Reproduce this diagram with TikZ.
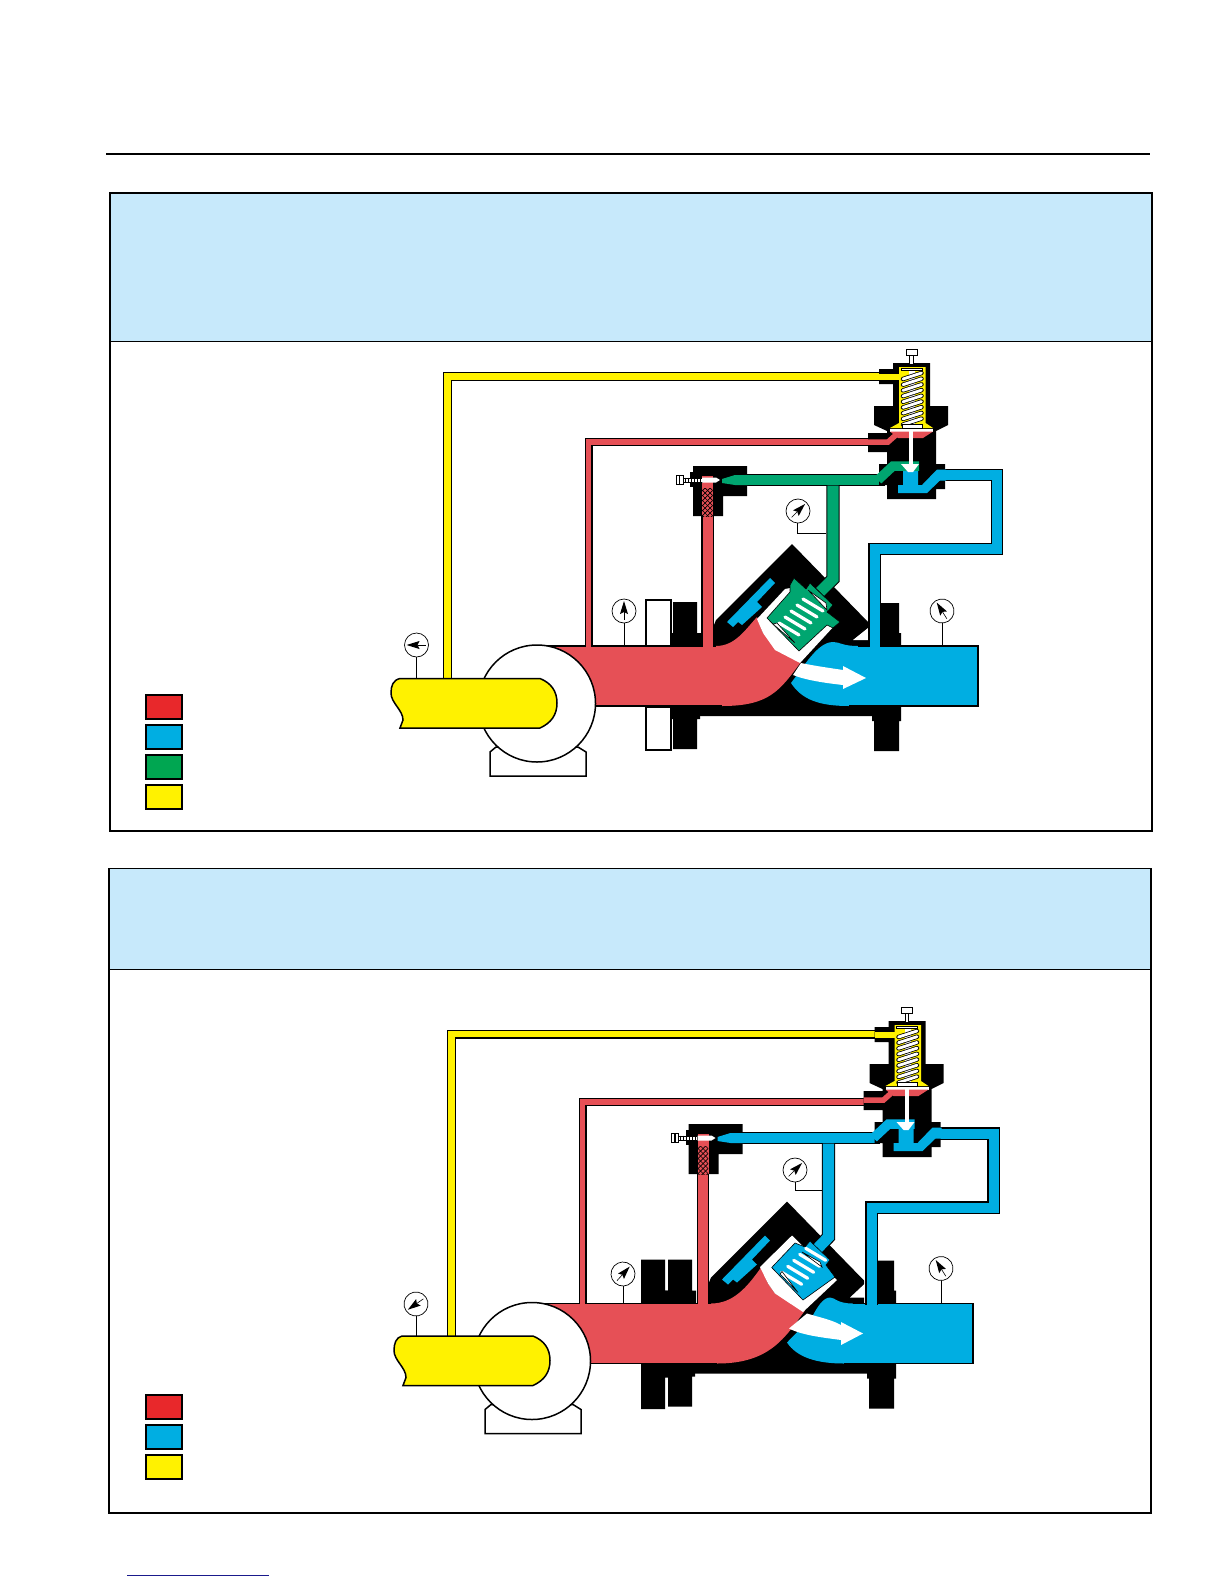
\documentclass[tikz,border=0pt]{standalone}
\usepackage{tikz}
\usetikzlibrary{calc}
\definecolor{headblue}{RGB}{199,233,251}
\definecolor{keyred}{RGB}{232,40,43}
\definecolor{linered}{RGB}{230,80,86}
\definecolor{lineblue}{RGB}{0,174,226}
\definecolor{linegreen}{RGB}{0,166,112}
\definecolor{keygreen}{RGB}{0,166,81}
\definecolor{lineyellow}{RGB}{255,242,0}
\definecolor{linknavy}{RGB}{26,26,140}

% gauge: x, y, turn of the needle
\newcommand{\gaugemark}[3]{
  \begin{scope}[shift={(#1,#2)},rotate=#3]
    \draw[line width=.35pt,fill=white] (0,0) circle [radius=12];
    \fill (0,-10) -- (4,3) -- (0,1) -- (-4,3) -- cycle;
    \draw[line width=.3pt] (0,1) -- (0,9);
  \end{scope}
}
% black body of the main valve and its flanges
\newcommand{\valvebody}{
  \fill (792,544) -- (869,623) -- (869,650) -- (873,707) -- (873,716) -- (700,716) -- (700,707)
    -- (712,646) -- (712,630) -- (716,620) -- cycle;
  \fill (673,602) rectangle (697,633) (669,633) rectangle (701,647);
  \fill (669,706) rectangle (700,719) (673,719) rectangle (697,749);
  \fill (880,603) rectangle (899,633) (880,633) rectangle (901,647);
  \fill (872,706) rectangle (901,721) (874,721) rectangle (899,751);
  \fill[lineblue] (770,578) -- (775,583) -- (757,602) -- (762,607) -- (742,625) -- (738,622)
    -- (733,627) -- (727,622) -- cycle;
}
\newcommand{\pistonbars}[2]{
  \foreach \k in {0,...,4}
    \draw[white,line width=1.6pt,line cap=round] ($(#1,#2)+(6*\k,-6*\k)$) -- ++(20,12);
}
% pump, foot and casing
\newcommand{\pumpset}{
  \draw[heavy,fill=white] (490,776) -- (586,776) -- (586,752) -- (578,747) -- (496,747) -- (490,752) -- cycle;
  \draw[heavy,fill=white] (537,703.5) circle [radius=58.5];
}
% pilot and needle, upper frame; #1 = colour of the control line
\newcommand{\pilotvalve}[1]{
  \fill (893,363) -- (930,363) -- (930,406) -- (948,406) -- (948,425) -- (936,431) -- (936,464)
    -- (945,464) -- (945,489) -- (936,489) -- (936,499) -- (887,499) -- (887,485) -- (879,485)
    -- (879,464) -- (887,464) -- (887,452) -- (868,452) -- (868,433) -- (887,433) -- (887,431)
    -- (874,425) -- (874,406) -- (893,406) -- (893,384) -- (879,384) -- (879,369) -- (893,369) -- cycle;
  % screw on top
  \draw[thin,fill=white] (906,349) rectangle (917,355);
  \draw[thin,fill=white] (909.5,355) rectangle (913,364);
  % spring chamber
  \fill[lineyellow] (879,373.5) rectangle (899,379.5);
  \fill[lineyellow] (899,367) -- (925.5,367) -- (925.5,423) -- (933,428) -- (890,428) -- (899,423) -- cycle;
  \fill[white] (909,371) rectangle (915,424);
  \draw[line width=.4pt,fill=white] (901,368) rectangle (922,370.5);
  \foreach \y in {376,381.7,...,422} {
    \draw[line width=2.2pt,line cap=round] (903,\y+3) -- (921.5,\y-3);
    \draw[white,line width=1.4pt,line cap=round] (903,\y+3) -- (921.5,\y-3);
  }
  \draw[line width=.4pt,fill=white] (902,424.5) rectangle (922,428);
  \fill[white] (890,428.5) rectangle (933,431.5);
  \fill[linered] (890,431.5) -- (933,431.5) -- (923,438) -- (898,438) -- cycle;
  \draw[linered,line width=2.75pt] (868,442) -- (888,442) -- (897,434);
  \draw[#1,line width=4.75pt] (878,480) -- (893,466) -- (919,466);
  \fill[lineblue] (903,471) -- (918,471) -- (918,485) -- (922,485) -- (937,469.5) -- (946,469.5) -- (946,480.5)
    -- (940,480.5) -- (927,493) -- (898,493) -- (898,485) -- (903,485) -- cycle;
  \fill[white] (909,431) rectangle (913,464);
  \fill[white] (901,464) -- (919,464) -- (913,472) -- (908,472) -- cycle;
  % needle block
  \fill (693,466) -- (747,466) -- (747,496) -- (723,496) -- (723,516) -- (693,516) -- cycle;
  \fill (690,472) rectangle (693,487);
  \fill[linered] (702,476) rectangle (713,516);
  \begin{scope}
    \clip (702,488) rectangle (712.5,516);
    \foreach \k in {470,475,...,515} {
      \draw[line width=.35pt] (702,\k) -- (713,\k+11);
      \draw[line width=.35pt] (713,\k) -- (702,\k+11);
    }
  \end{scope}
  \fill[#1] (722,479) -- (735,475) -- (748,475) -- (748,485) -- (735,485) -- (722,483) -- cycle;
  \draw[line width=.3pt,fill=white] (683,478) rectangle (702,482);
  \foreach \k in {685,688,...,700}
    \draw[line width=.5pt] (\k,477.5) -- (\k,482.5);
  \draw[line width=.5pt,fill=white] (676,475.5) rectangle (683,484);
  \draw[line width=.6pt] (679.5,475.5) -- (679.5,484);
  \fill[white] (702,477.5) -- (716,477.5) -- (720,480) -- (716,482.5) -- (702,482.5) -- cycle;
}

\begin{document}
\begin{tikzpicture}[
  x=.5pt, y=-.5pt,
  heavy/.style={draw=black, line width=.75pt},
  panelbox/.style={draw=black, line width=.8pt},
  pipe/.style={draw=black, line width=.55pt, double=#1, double distance=5pt},
  keybox/.style={draw=black, line width=.75pt, minimum width=18pt, minimum height=12pt, inner sep=0pt},
  leader/.style={line width=.35pt}
]
\useasboundingbox (0,0) rectangle (1224,1584);

\draw[line width=1pt] (106,153.5) -- (1150,153.5);

%-------- upper panel
\fill[headblue] (110,193) rectangle (1152,341.5);
\draw[panelbox] (110,193) rectangle (1152,831);
\draw[panelbox] (110,341.5) -- (1152,341.5);

\node[keybox,fill=keyred]     (keyA) at (164,707) {};
\node[keybox,fill=lineblue]   (keyB) at (164,737) {};
\node[keybox,fill=keygreen]   (keyC) at (164,767) {};
\node[keybox,fill=lineyellow] (keyD) at (164,797) {};

\valvebody
\draw[heavy,fill=white] (646,600) rectangle (671,646);
\draw[heavy,fill=white] (646,707) rectangle (671,750);
% red side
\fill[linered] (540,646) -- (716,646) .. controls (735,646) and (745,630) .. (757,617) -- (763,633) -- (801,662)
  .. controls (780,690) and (770,706) .. (722,706) -- (590,706) -- cycle;
\draw[heavy] (540,646) -- (716,646) (590,706) -- (722,706);
% blue side
\fill[lineblue] (808,660) .. controls (816,650) and (824,642) .. (833,642) .. controls (840,642) and (842,646) .. (858,646)
  -- (978,646) -- (978,706) -- (849,706) .. controls (820,706) and (802,700) .. (791,683) -- cycle;
\draw[heavy] (858,646) -- (978,646) -- (978,706) -- (849,706);
% cavity and control chamber
\fill[white] (757,619) -- (785,589) -- (800,586) -- (835,625) -- (800,663) -- (775,650) -- (763,633) -- cycle;
\fill[white] (868,628) -- (868,640) -- (853,640) -- cycle;

\draw[pipe=lineyellow,double distance=3.4pt] (447.5,679) -- (447.5,376.5) -- (885,376.5);
\draw[pipe=linered,double distance=2.9pt] (588.5,647) -- (588.5,442) -- (875,442);
\draw[pipe=linered] (707.5,647) -- (707.5,480);
\draw[pipe=linegreen] (736,480) -- (885,480);
\draw[pipe=linegreen,double distance=5.6pt] (833,485.5) -- (833,579) -- (820,592);
\draw[pipe=lineblue] (874.5,647) -- (874.5,549) -- (997,549) -- (997,475) -- (940,475);

\draw[line width=.3pt,fill=linegreen] (767,618) -- (790,592) -- (790,585) -- (794,578) -- (806,589) -- (810,583) -- (833,605)
  -- (827,612) -- (840,622) -- (833,628) -- (827,625) -- (799,651) -- cycle;
\pistonbars{779}{623}
\draw[line width=.3pt,fill=white] (773,624) -- (795,643) -- (777,623) -- cycle;
\draw[line width=.3pt,fill=white] (808,590) -- (827,610) -- (826,603) -- cycle;

% flow arrow
\fill[white] (801,663) .. controls (815,666) and (830,668) .. (843,670) -- (843,666) -- (866,678) -- (843,689) -- (843,685)
  .. controls (825,683) and (805,680) .. (793,675) -- cycle;

\pumpset
\draw[heavy,fill=lineyellow] (400,678.5) .. controls (393,680) and (391,686) .. (391,693) .. controls (391,703) and (403,710) .. (403,720)
  -- (400,728) -- (540,728) .. controls (551,723) and (557,715) .. (557,703) .. controls (557,691) and (551,683) .. (540,678.5) -- cycle;
\pilotvalve{linegreen}

\draw[leader] (416.5,657) -- (416.5,678);
\draw[leader] (624,623) -- (624,646);
\draw[leader] (942,623) -- (942,646);
\draw[leader] (797.5,523) -- (797.5,533) -- (826,533);
\gaugemark{416.5}{645}{90}
\gaugemark{624}{611}{0}
\gaugemark{942}{611}{32}
\gaugemark{798}{511}{-45}

%-------- lower panel
\fill[headblue] (109,868.5) rectangle (1151,969.5);
\draw[panelbox] (109,868.5) rectangle (1151,1513);
\draw[panelbox] (109,969.5) -- (1151,969.5);

\node[keybox,fill=keyred]     (keyE) at (164,1407) {};
\node[keybox,fill=lineblue]   (keyF) at (164,1437) {};
\node[keybox,fill=lineyellow] (keyG) at (164,1467) {};

\begin{scope}[shift={(-5,657.5)}]
  \valvebody
  \fill (646,602) rectangle (670,647) (669,633) rectangle (673,647);
  \fill (646,706) rectangle (672,720) (646,720) rectangle (670,751.5) (669,706) rectangle (673,720);
  \fill[linered] (540,646) -- (716,646) .. controls (738,646) and (752,630) .. (766,610) -- (773,626) -- (780,636) -- (810,653)
    .. controls (790,680) and (775,706) .. (722,706) -- (590,706) -- cycle;
  \draw[heavy] (540,646) -- (716,646) (590,706) -- (722,706);
  \fill[lineblue] (817,659.5) .. controls (822,650) and (828,640) .. (835,640) .. controls (840,640) and (842,646) .. (858,646)
    -- (978,646) -- (978,706) -- (849,706) .. controls (822,706) and (802,700) .. (792,685) -- cycle;
  \draw[heavy] (858,646) -- (978,646) -- (978,706) -- (849,706);
  \fill[white] (765,609.5) -- (797,578) -- (842,622.5) -- (808,654.5) -- (780,636) -- (773,626) -- cycle;
  \fill[white] (870,626) -- (870,640) -- (855,640) -- cycle;
\end{scope}

\draw[pipe=lineyellow,double distance=3.4pt] (451.5,1336) -- (451.5,1034) -- (880,1034);
\draw[pipe=linered,double distance=2.9pt] (582.5,1304) -- (582.5,1102) -- (870,1102);
\draw[pipe=linered] (703,1304) -- (703,1138);
\draw[pipe=lineblue] (732,1138) -- (880,1138);
\draw[pipe=lineblue,double distance=5.6pt] (828.5,1143.5) -- (828.5,1237) -- (816,1250);
\draw[pipe=lineblue] (871.5,1304.5) -- (871.5,1207.5) -- (993.5,1207.5) -- (993.5,1133.5) -- (936,1133.5);

\begin{scope}[shift={(-5,657.5)}]
  \draw[line width=.3pt,fill=lineblue] (776.7,610) -- (800,585.5) -- (810,589.5) -- (815,583.5) -- (835,602.5) -- (831,607.5)
    -- (840,619.5) -- (808,642.5) -- cycle;
  \pistonbars{786.7}{614.8}
  \draw[line width=.3pt,fill=white] (787,614) -- (803,635) -- (785,616.5) -- cycle;
  \draw[line width=.3pt,fill=white] (807,594.5) -- (827,609.5) -- (825,604.5) -- cycle;
  \fill[white] (812,656) .. controls (825,660) and (836,662) .. (846,667.5) -- (846,664.5) -- (868,676) -- (846,687.5) -- (846,682.5)
    .. controls (828,680) and (808,678) .. (794,671) -- cycle;
  \pumpset
  \draw[heavy,fill=lineyellow] (407,678.5) .. controls (401,680) and (399,686) .. (399,693) .. controls (399,703) and (411,710) .. (411,720)
    -- (408,728) -- (538,728) .. controls (549,723) and (555,715) .. (555,703) .. controls (555,691) and (549,683) .. (538,678.5) -- cycle;
\end{scope}

\begin{scope}[shift={(-4.5,658)}]
  \pilotvalve{lineblue}
\end{scope}

\draw[leader] (416,1316) -- (416,1336);
\draw[leader] (623,1286) -- (623,1304);
\draw[leader] (941,1280) -- (941,1304);
\draw[leader] (795,1182) -- (795,1190) -- (822,1190);
\gaugemark{416}{1304}{125}
\gaugemark{623}{1274}{-42}
\gaugemark{941}{1268.5}{32}
\gaugemark{795}{1170}{-45}

\draw[linknavy,line width=.5pt] (127,1575) -- (269,1575);
\end{tikzpicture}
\end{document}
